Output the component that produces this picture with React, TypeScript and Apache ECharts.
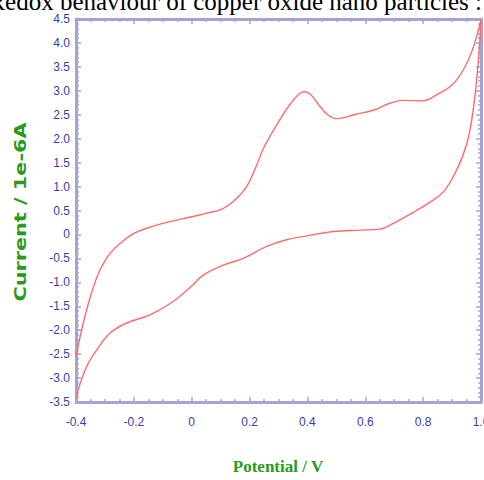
import React, { useEffect, useRef } from "react";
import * as echarts from "echarts";

// Anodic (forward) sweep
const forwardPotential = [-0.4, -0.38, -0.36, -0.34, -0.32, -0.3, -0.28, -0.25, -0.2, -0.15, -0.1, 0.0, 0.05, 0.1, 0.13, 0.16, 0.19, 0.22, 0.25, 0.3, 0.34, 0.37, 0.39, 0.41, 0.44, 0.47, 0.5, 0.52, 0.56, 0.63, 0.685, 0.73, 0.8, 0.85, 0.9, 0.94, 0.97, 1.0];
const forwardCurrent = [-2.55, -1.98, -1.5, -1.1, -0.78, -0.55, -0.38, -0.2, 0.02, 0.14, 0.23, 0.37, 0.44, 0.52, 0.62, 0.78, 1.0, 1.38, 1.82, 2.35, 2.72, 2.93, 2.98, 2.93, 2.7, 2.5, 2.42, 2.43, 2.5, 2.6, 2.74, 2.8, 2.79, 2.93, 3.12, 3.45, 3.85, 4.48];
// Cathodic (reverse) sweep
const reversePotential = [1.0, 0.991, 0.973, 0.951, 0.916, 0.87, 0.82, 0.777, 0.697, 0.651, 0.582, 0.49, 0.398, 0.328, 0.259, 0.178, 0.109, 0.04, 0.005, -0.064, -0.144, -0.225, -0.282, -0.328, -0.363, -0.4];
const reverseCurrent = [4.48, 3.64, 2.6, 1.9, 1.35, 0.89, 0.66, 0.5, 0.23, 0.11, 0.09, 0.06, -0.03, -0.11, -0.25, -0.5, -0.64, -0.85, -1.05, -1.4, -1.68, -1.85, -2.06, -2.41, -2.76, -3.39];

const titleText = "Redox behaviour of copper oxide nano particles :";
const xName = "Potential / V";
const yName = "Current / 1e-6A";

const fmt = (v: number) => (Math.abs(v) < 1e-9 ? "0" : v.toFixed(1));

export default function App() {
  const ref = useRef<HTMLDivElement>(null);
  useEffect(() => {
    if (!ref.current) return;
    const chart = echarts.init(ref.current, null, { renderer: "svg" });
    const forward = forwardPotential.map((v, i) => [v, forwardCurrent[i]]);
    const reverse = reversePotential.map((v, i) => [v, reverseCurrent[i]]);
    const axisColor = "#a3a3d6";
    const labelColor = "#3c3ca8";
    const labelFont = { color: labelColor, fontSize: 12, fontFamily: "Liberation Sans Narrow, Liberation Sans, sans-serif" };
    const tick = { show: true, inside: true, length: 5, lineStyle: { color: axisColor, width: 1.5 } };
    const line = { show: true, onZero: false, lineStyle: { color: axisColor, width: 3 } };
    chart.setOption({
      animation: false,
      backgroundColor: "#ffffff",
      grid: { left: 76, right: 3, top: 19, bottom: 78, outerBoundsMode: "none", containLabel: false },
      xAxis: [
        {
          type: "value", min: -0.4, max: 1.0, interval: 0.2,
          axisLine: line, axisTick: tick,
          minorTick: { show: true, splitNumber: 4, length: 3, lineStyle: { color: axisColor, width: 1.5 } },
          axisLabel: { ...labelFont, margin: 14, formatter: fmt, showMaxLabel: true, hideOverlap: false },
          splitLine: { show: false },
        },
        {
          type: "value", position: "top", min: -0.4, max: 1.0, interval: 0.2,
          axisLine: line, axisTick: tick,
          minorTick: { show: true, splitNumber: 4, length: 3, lineStyle: { color: axisColor, width: 1.5 } },
          axisLabel: { show: false },
          splitLine: { show: false },
        },
      ],
      yAxis: [
        {
          type: "value", min: -3.5, max: 4.5, interval: 0.5,
          axisLine: line, axisTick: tick,
          minorTick: { show: true, splitNumber: 5, length: 3, lineStyle: { color: axisColor, width: 1.5 } },
          axisLabel: { ...labelFont, margin: 6, formatter: fmt },
          splitLine: { show: false },
        },
        {
          type: "value", position: "right", min: -3.5, max: 4.5, interval: 0.5,
          axisLine: line, axisTick: tick,
          minorTick: { show: true, splitNumber: 5, length: 3, lineStyle: { color: axisColor, width: 1.5 } },
          axisLabel: { show: false },
          splitLine: { show: false },
        },
      ],
      graphic: [
        {
          type: "text", x: 482, y: 1,
          style: {
            text: titleText, fill: "#000000", align: "right", verticalAlign: "middle",
            font: "25px 'Liberation Serif', serif",
          },
        },
        {
          type: "text", x: 20, y: 212, rotation: Math.PI / 2, scaleX: 1.3,
          style: {
            text: yName, fill: "#2a9a1a", align: "center", verticalAlign: "middle",
            font: "bold 16px 'DejaVu Sans', sans-serif",
          },
        },
        {
          type: "text", x: 278, y: 466,
          style: {
            text: xName, fill: "#2a9a1a", align: "center", verticalAlign: "middle",
            font: "bold 17px 'Liberation Serif', serif",
          },
        },
      ],
      series: [
        {
          type: "line", data: forward, smooth: 0.4, symbol: "none",
          lineStyle: { color: "#ff6b6b", width: 1.4 },
        },
        {
          type: "line", data: reverse, smooth: 0.4, symbol: "none",
          lineStyle: { color: "#ff6b6b", width: 1.4 },
        },
      ],
    });
    return () => chart.dispose();
  }, []);
  return <div ref={ref} style={{ width: 484, height: 480, position: "absolute", left: 0, top: 0 }} />;
}
